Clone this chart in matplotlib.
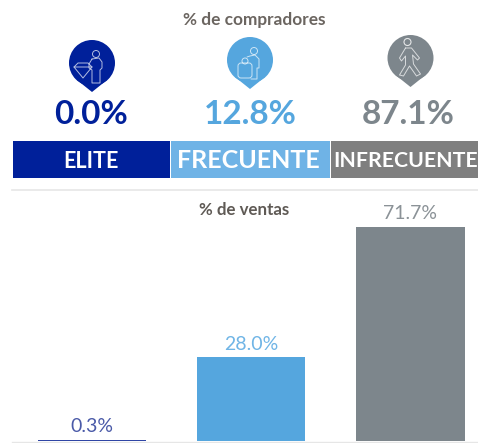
import matplotlib
matplotlib.use("Agg")
import matplotlib.pyplot as plt
from matplotlib.patches import Circle, Polygon, Rectangle, FancyBboxPatch

plt.rcParams["font.family"] = ["Lato", "DejaVu Sans"]

# Dades
segments = ["ELITE", "FRECUENTE", "INFRECUENTE"]
buyers = [0.0, 12.8, 87.1]
sales = [0.3, 28.0, 71.7]

bar_colors = ["#2f45a5", "#55a6de", "#7d868c"]
buyer_colors = ["#00209a", "#55a6de", "#7d868c"]
label_colors = ["#4a5aa8", "#70b5e6", "#8b9297"]
strip_colors = ["#00209a", "#6fb3e6", "#7f7f7f"]

W, H = 478, 443
fig = plt.figure(figsize=(W / 100, H / 100), dpi=100, facecolor="white")

# Eix de barres
ax = fig.add_axes([0, 2 / H, 1, 217 / H])
ax.bar(range(3), sales, width=0.68, color=bar_colors)
ax.set_xlim(-0.578, 2.424)
ax.set_ylim(0, 217 / 2.985)
ax.axis("off")
for i, v in enumerate(sales):
    ax.annotate(f"{v:.1f}%", (i, v), xytext=(0, 3.5), textcoords="offset points",
                ha="center", va="bottom", fontsize=14, color=label_colors[i])

# Capa de decoracio en pixels
top = fig.add_axes([0, 0, 1, 1], facecolor="none")
top.set_xlim(0, W)
top.set_ylim(H, 0)
top.axis("off")

top.text(254, 20, "% de compradores", ha="center", va="center", fontsize=12.4,
         fontweight="bold", color="#6b6560")
top.text(244, 210, "% de ventas", ha="center", va="center", fontsize=12.2,
         fontweight="bold", color="#5f5a55")

# Franges de capcalera
strips = [(13, 157), (171, 159), (331, 147)]
for (x, w), c in zip(strips, strip_colors):
    top.add_patch(Rectangle((x, 141), w, 37, color=c, lw=0))
top.text(91, 161, segments[0], ha="center", va="center", color="white",
         fontweight="bold", fontsize=15.5)
top.text(248, 161, segments[1], ha="center", va="center", color="white",
         fontweight="bold", fontsize=18)
top.text(333, 161, segments[2], ha="left", va="center", color="white",
         fontweight="bold", fontsize=15.3)

# Percentatges de compradors
for cx, v, c in zip([91, 250, 408], buyers, buyer_colors):
    top.text(cx, 114, f"{v:.1f}%", ha="center", va="center", fontsize=24,
             fontweight="bold", color=c)

# Icones
icons = [(92, 63, "#00209a"), (250, 60, "#55a6de"), (410.5, 58, "#7d868c")]
for cx, cy, c in icons:
    top.add_patch(Circle((cx, cy), 23, color=c, lw=0))
    top.add_patch(Polygon([(cx - 15, cy + 17), (cx + 15, cy + 17), (cx, cy + 29)],
                          color=c, lw=0))


def outline(points, x, y):
    top.plot([x + p[0] for p in points], [y + p[1] for p in points],
             color="white", lw=0.7, alpha=0.7, solid_capstyle="round")


# Comprador elite
cx, cy, c = icons[0]
top.add_patch(Circle((cx + 4, cy - 9), 3.5, fill=False, ec="white", lw=0.7, alpha=0.7))
outline([(-1, -4), (-4, 1), (-4, 5), (-1, 7), (-1, 20), (7, 20), (7, 7), (9, 5), (9, -1),
         (6, -5), (-1, -4)], cx + 1, cy)
outline([(-9, -3), (-5, -7), (5, -7), (9, -3), (0, 8), (-9, -3), (9, -3)], cx - 9, cy + 7)

# Comprador frequent
cx, cy, c = icons[1]
top.add_patch(Circle((cx + 4, cy - 9), 3.5, fill=False, ec="white", lw=0.7, alpha=0.7))
outline([(-4, -3), (-1, -4), (4, -5), (8, -1), (8, 8), (6, 8), (6, 19), (0, 19)], cx + 1, cy)
top.add_patch(FancyBboxPatch((cx - 12, cy + 3), 14, 15,
                             boxstyle="round,pad=0,rounding_size=3",
                             fc=c, ec="white", lw=0.7, alpha=0.7))
top.add_patch(Circle((cx - 5, cy + 1), 3, fill=False, ec="white", lw=0.7, alpha=0.7))

# Caminant
gx, gy, _ = icons[2]
top.add_patch(Circle((gx - 3, gy - 16), 3.5, fill=False, ec="white", lw=0.8, alpha=0.8))
outline([(-5, -10), (-11, 0), (-9, 3), (-5, -2), (-5, 7), (-11, 17), (-7, 18), (-1, 8),
         (6, 18), (10, 16), (3, 6), (2, -3), (7, 2), (9, 0), (1, -10), (-5, -10)], gx, gy)

# Linies separadores
top.plot([12, 478], [190, 190], color="#e6e6e6", lw=1.2)
top.plot([12, 478], [441.5, 441.5], color="#e6e6e6", lw=1, zorder=0)

fig.savefig("out.png", dpi=100)
